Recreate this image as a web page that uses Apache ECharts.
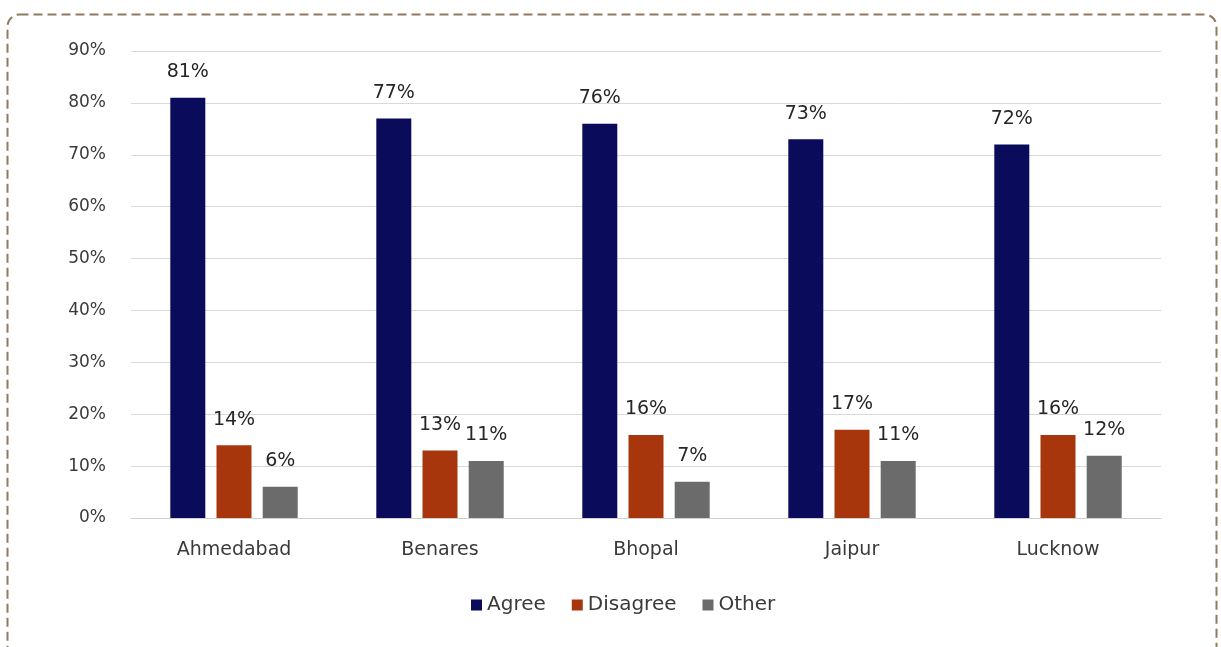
<!DOCTYPE html>
<html>
<head>
<meta charset="utf-8">
<script src="https://cdn.jsdelivr.net/npm/echarts@6/dist/echarts.min.js"></script>
<style>
  html, body { margin: 0; padding: 0; background: #ffffff; overflow: hidden; }
  #frame { position: absolute; left: 0; top: 0; width: 1221px; height: 647px; }
  #chart { position: absolute; left: 0; top: 0; width: 1221px; height: 647px; }
</style>
</head>
<body>
<svg id="frame" width="1221" height="647">
  <rect x="7.5" y="14.5" width="1209" height="700" rx="12" ry="12"
        fill="none" stroke="#8f7b60" stroke-width="2" stroke-dasharray="9 5"/>
</svg>
<div id="chart"></div>
<script>
// Survey responses by city (percent of respondents)
const cities = ['Ahmedabad', 'Benares', 'Bhopal', 'Jaipur', 'Lucknow'];
const agree = [81, 77, 76, 73, 72];
const disagree = [14, 13, 16, 17, 16];
const other = [6, 11, 7, 11, 12];
const seriesNames = ['Agree', 'Disagree', 'Other'];
const seriesColors = ['#0b0b5c', '#a8360c', '#6b6b6b'];

const font = '"DejaVu Sans", Verdana, sans-serif';
const chart = echarts.init(document.getElementById('chart'), null, { renderer: 'canvas' });

function barSeries(name, data, color) {
  return {
    name: name,
    type: 'bar',
    data: data,
    barWidth: 35,
    barGap: '32%',
    itemStyle: { color: color },
    label: {
      show: true,
      position: 'top',
      distance: 16,
      formatter: '{c}%',
      color: '#262626',
      fontFamily: font,
      fontSize: 19
    }
  };
}

chart.setOption({
  animation: false,
  grid: { left: 131, right: 60, top: 51, bottom: 129, containLabel: false },
  legend: {
    data: seriesNames,
    bottom: 27,
    left: 466,
    itemWidth: 11,
    itemHeight: 11,
    itemGap: 26,
    icon: 'rect',
    textStyle: { color: '#3a3a3a', fontFamily: font, fontSize: 20 }
  },
  xAxis: {
    type: 'category',
    data: cities,
    axisTick: { show: false },
    axisLine: { lineStyle: { color: '#d0d0d0', width: 1 } },
    axisLabel: { color: '#3a3a3a', fontFamily: font, fontSize: 19, margin: 23 }
  },
  yAxis: {
    type: 'value',
    min: 0,
    max: 90,
    interval: 10,
    axisLabel: { formatter: '{value}%', color: '#3a3a3a', fontFamily: font, fontSize: 17, margin: 25 },
    splitLine: { lineStyle: { color: '#d9d9d9', width: 1 } },
    axisLine: { show: false },
    axisTick: { show: false }
  },
  series: [
    barSeries(seriesNames[0], agree, seriesColors[0]),
    barSeries(seriesNames[1], disagree, seriesColors[1]),
    barSeries(seriesNames[2], other, seriesColors[2])
  ]
});
</script>
</body>
</html>
